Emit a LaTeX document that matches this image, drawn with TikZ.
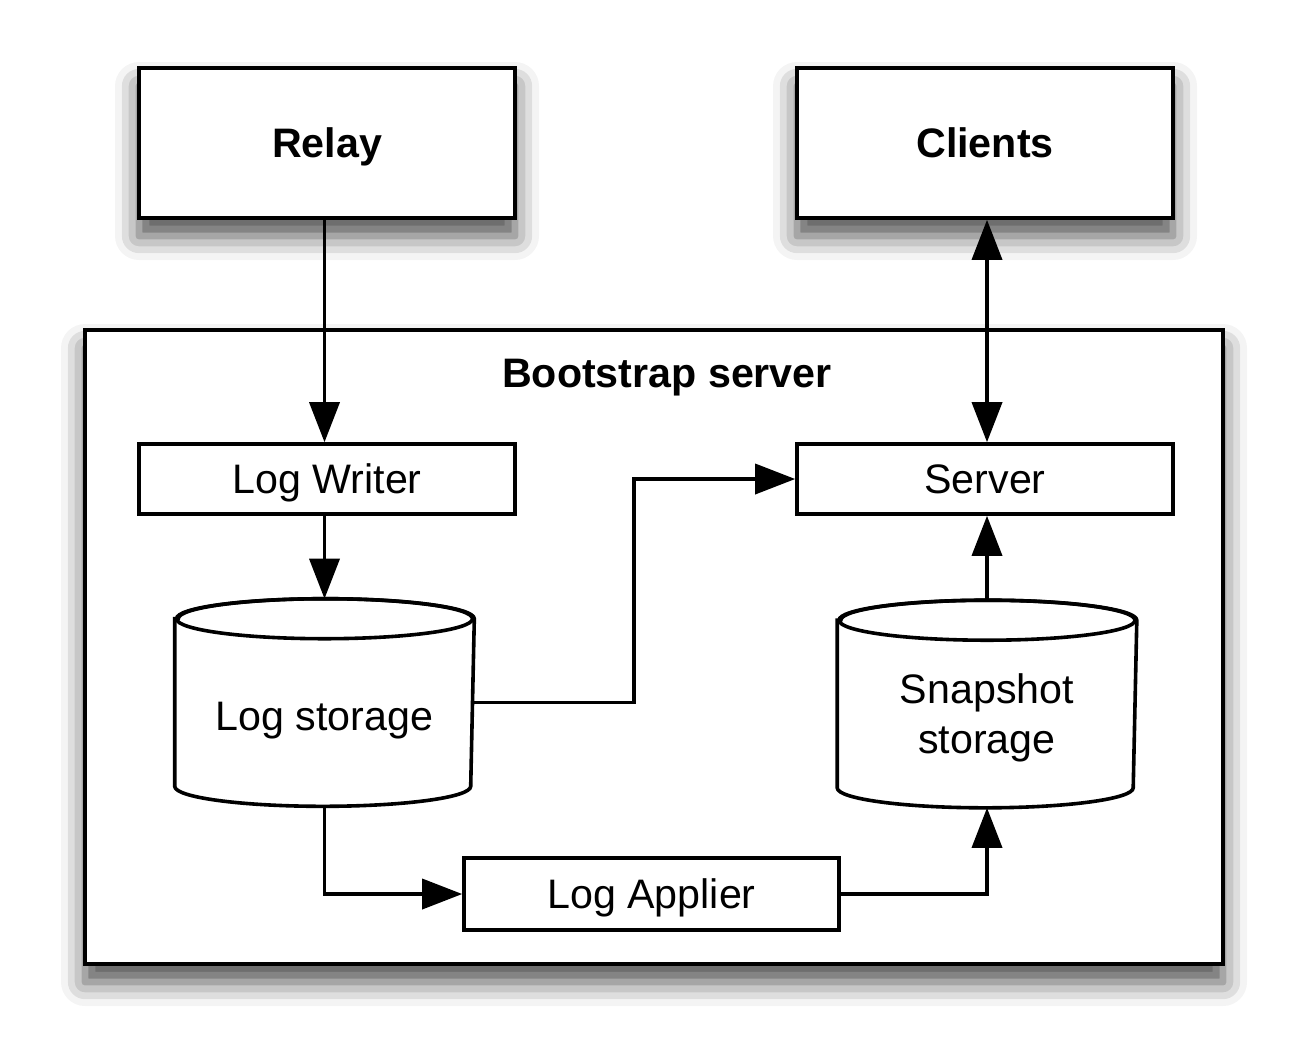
\documentclass[tikz,border=0pt]{standalone}
\usepackage{fontspec}
\setmainfont{Liberation Sans}
\usetikzlibrary{arrows.meta,shadows.blur}
\begin{document}
\begin{tikzpicture}[x=0.5pt,y=-0.5pt,
  line width=1.8pt,
  font=\fontsize{20.6pt}{25pt}\selectfont,
  shad/.style={blur shadow={shadow xshift=0pt, shadow yshift=-9pt, shadow blur radius=12pt, shadow opacity=70}},
  one/.style={text height=14.8pt, text depth=0pt},
  bigbox/.style={draw, fill=white, line width=1.8pt, minimum width=188pt, minimum height=75pt, inner sep=0pt, font=\fontsize{20.6pt}{25pt}\selectfont\bfseries, one, shad},
  smallbox/.style={draw, fill=white, line width=1.8pt, minimum width=188pt, minimum height=35pt, inner sep=0pt, one},
  cylbox/.style={minimum width=148pt, minimum height=102pt, inner sep=0pt},
  txt/.style={inner sep=0pt, align=center},
  arr/.style={-{Triangle[length=20pt,width=15pt]}},
  darr/.style={{Triangle[length=20pt,width=15pt]}-{Triangle[length=20pt,width=15pt]}}
]
\useasboundingbox (0,0) rectangle (1304,1062);
% outer server box
\node[draw, fill=white, line width=1.8pt, minimum width=569pt, minimum height=317pt, inner sep=0pt, shad] (boot) at (654,647) {};
\node[txt, one, font=\fontsize{20.6pt}{25pt}\selectfont\bfseries] (title) at (667,373) {Bootstrap server};
% top boxes
\node[bigbox] (relay) at (327,143) {Relay};
\node[bigbox] (clients) at (985,143) {Clients};
% inner boxes
\node[smallbox] (lw) at (327,479) {Log Writer};
\node[smallbox] (server) at (985,479) {Server};
\node[smallbox, minimum width=187.5pt, minimum height=36pt] (la) at (651.5,894) {Log Applier};
% cylinders
\node[cylbox] (ls) at (324.5,702.5) {};
\node[cylbox] (ss) at (987,704) {};
\foreach \c in {ls,ss}{
  \draw[fill=white] ([yshift=-10pt]\c.north west) -- ([yshift=10pt]\c.south west)
    arc[start angle=180, end angle=360, x radius=74pt, y radius=10pt]
    -- ([yshift=-10pt]\c.north east)
    arc[start angle=0, end angle=180, x radius=74pt, y radius=10pt] -- cycle;
  \draw ([yshift=-10pt]\c.north) ellipse[x radius=74pt, y radius=10pt];
}
\node[txt, one] (lst) at ([yshift=-6.5pt]ls.center) {Log storage};
\node[txt] (sst) at ([yshift=-7pt]ss.center) {Snapshot\\storage};
\coordinate (bend) at (634,0);
% connectors
\draw[arr] (relay.south -| ls.north) -- (lw.north -| ls.north);
\draw[arr] (lw.south -| ls.north) -- (ls.north);
\draw[darr] (clients.south -| ss.north) -- (server.north -| ss.north);
\draw[arr] (ss.north) -- (server.south -| ss.north);
\draw[arr] (ls.east) -- (ls.east -| bend) |- (server.west);
\draw[arr] (ls.south) |- (la.west);
\draw[arr] (la.east) -| (ss.south);
\end{tikzpicture}
\end{document}
